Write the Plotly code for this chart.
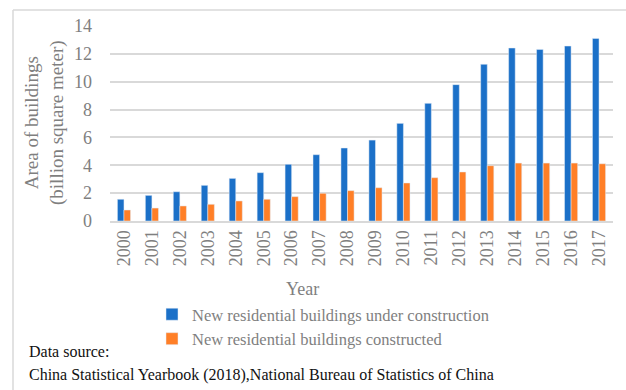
import plotly.graph_objects as go

years = [str(y) for y in range(2000, 2018)]
under_construction = [1.56, 1.84, 2.10, 2.56, 3.06, 3.47, 4.07, 4.76, 5.24, 5.81,
                      7.01, 8.45, 9.79, 11.25, 12.42, 12.32, 12.56, 13.11]
constructed = [0.79, 0.93, 1.08, 1.20, 1.44, 1.56, 1.75, 1.99, 2.18, 2.39,
               2.73, 3.11, 3.52, 3.97, 4.16, 4.16, 4.16, 4.11]
y_ticks = [0, 2, 4, 6, 8, 10, 12, 14]

FONT = "Liberation Serif"
GRAY = "#7f7f7f"
BLUE = "#1b70c8"
ORANGE = "#ff7f27"

fig = go.Figure()
fig.add_trace(go.Bar(x=years, y=under_construction, name="New residential buildings under construction",
                     marker=dict(color=BLUE)))
fig.add_trace(go.Bar(x=years, y=constructed, name="New residential buildings constructed",
                     marker=dict(color=ORANGE)))

W, H = 626, 390
L, R, T, B = 110, 13, 26, 169
plot_h = H - T - B

def py(px):
    # convert a pixel row to paper y
    return (H - B - px) / plot_h

def px_(x):
    return (x - L) / (W - L - R)

fig.update_layout(
    width=W, height=H,
    margin=dict(l=L, r=R, t=T, b=B, pad=0),
    paper_bgcolor="white", plot_bgcolor="white",
    barmode="group", bargap=0.53, bargroupgap=0,
    font=dict(family=FONT, size=17, color=GRAY),
    showlegend=True,
    legend=dict(x=px_(152), y=py(297), xanchor="left", yanchor="top",
                font=dict(family=FONT, size=16.5, color=GRAY),
                itemwidth=30, tracegroupgap=0, bgcolor="rgba(0,0,0,0)"),
    xaxis=dict(tickangle=-90, showgrid=False, showline=True, linecolor="#d9d9d9", linewidth=2,
               ticks="", tickfont=dict(family=FONT, size=18, color=GRAY), fixedrange=True),
    yaxis=dict(range=[0, 14], tickvals=y_ticks, showgrid=True, gridcolor="#d9d9d9", gridwidth=1.5,
               zeroline=False, showline=False, ticks="", ticklabelstandoff=17,
               tickfont=dict(family=FONT, size=18, color=GRAY), fixedrange=True),
    annotations=[
        dict(text="Area of buildings<br>(billion square meter)", xref="paper", yref="paper",
             x=px_(44), y=py(123), textangle=-90, showarrow=False,
             font=dict(family=FONT, size=19, color=GRAY), xanchor="center", yanchor="middle"),
        dict(text="Year", xref="paper", yref="paper", x=px_(302), y=py(289), showarrow=False,
             font=dict(family=FONT, size=18, color=GRAY), xanchor="center", yanchor="middle"),
        dict(text="Data source:", xref="paper", yref="paper", x=px_(27), y=py(352), showarrow=False,
             font=dict(family=FONT, size=16, color="#111111"), xanchor="left", yanchor="middle"),
        dict(text="China Statistical Yearbook (2018),National Bureau of Statistics of China",
             xref="paper", yref="paper", x=px_(27), y=py(375), showarrow=False,
             font=dict(family=FONT, size=16, color="#111111"), xanchor="left", yanchor="middle"),
    ],
    shapes=[
        dict(type="line", xref="paper", yref="paper", x0=px_(13), x1=px_(W), y0=py(10), y1=py(10),
             line=dict(color="#d9d9d9", width=1.5)),
        dict(type="line", xref="paper", yref="paper", x0=px_(13), x1=px_(13), y0=py(10), y1=py(H),
             line=dict(color="#d9d9d9", width=1.5)),
    ],
)

fig.write_html("out.html", config={"displayModeBar": False})
